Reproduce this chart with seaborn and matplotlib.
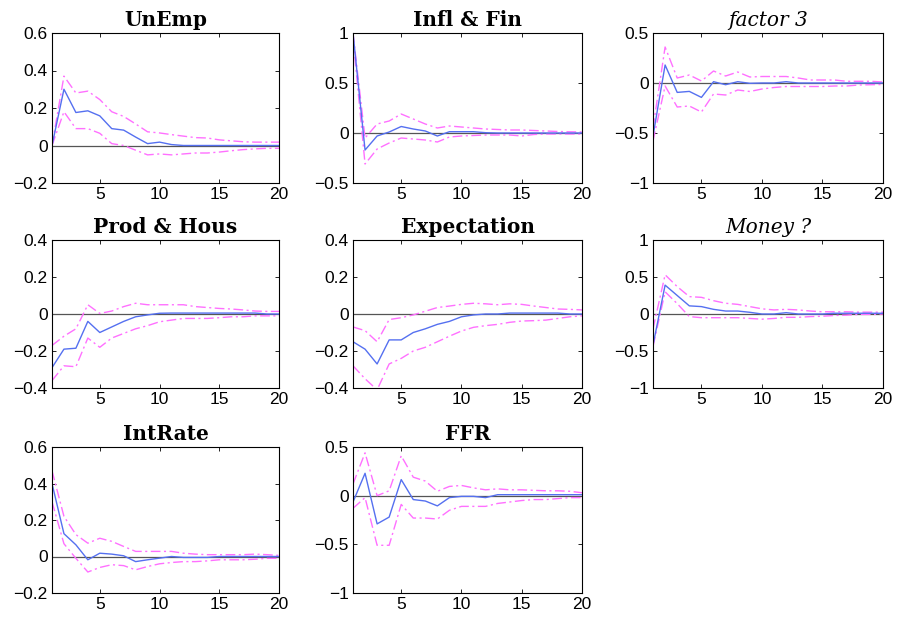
import numpy as np
import pandas as pd
import matplotlib
matplotlib.use("Agg")
import matplotlib.pyplot as plt
import seaborn as sns

horizon = list(range(1, 21))

titles = ["UnEmp", "Infl & Fin", "factor 3", "Prod & Hous", "Expectation", "Money ?", "IntRate", "FFR"]
italic_titles = ["factor 3", "Money ?"]

unemp_mid = [0.0, 0.30, 0.176, 0.185, 0.158, 0.09, 0.082, 0.045, 0.01, 0.018, 0.005, 0, 0, 0, 0, 0, 0, 0, 0, 0]
unemp_up = [0.0, 0.37, 0.28, 0.29, 0.245, 0.18, 0.155, 0.115, 0.073, 0.067, 0.058, 0.05, 0.042, 0.04, 0.03, 0.025, 0.02, 0.018, 0.018, 0.018]
unemp_lo = [0.0, 0.18, 0.09, 0.09, 0.065, 0.01, 0.0, -0.025, -0.05, -0.045, -0.05, -0.045, -0.04, -0.04, -0.035, -0.028, -0.022, -0.018, -0.015, -0.015]

infl_mid = [1.0, -0.17, -0.03, 0.01, 0.065, 0.04, 0.02, -0.03, 0.013, 0.013, 0.013, 0.003, 0, 0, 0, 0, 0, 0, 0, 0]
infl_up = [1.0, -0.05, 0.09, 0.12, 0.19, 0.14, 0.09, 0.05, 0.07, 0.06, 0.05, 0.04, 0.035, 0.03, 0.03, 0.025, 0.02, 0.015, 0.012, 0.01]
infl_lo = [0.95, -0.31, -0.16, -0.10, -0.05, -0.06, -0.07, -0.09, -0.04, -0.03, -0.025, -0.02, -0.02, -0.02, -0.03, -0.015, -0.01, -0.01, -0.01, -0.01]

fac3_mid = [-0.53, 0.18, -0.094, -0.084, -0.144, 0.013, -0.017, 0.013, -0.003, 0, 0, 0.013, 0, 0, 0, 0, 0, 0, 0, 0]
fac3_up = [-0.45, 0.36, 0.05, 0.08, 0.02, 0.12, 0.07, 0.11, 0.06, 0.065, 0.065, 0.065, 0.05, 0.03, 0.03, 0.03, 0.017, 0.017, 0.017, 0.01]
fac3_lo = [-0.58, -0.03, -0.24, -0.23, -0.29, -0.11, -0.12, -0.07, -0.085, -0.06, -0.045, -0.035, -0.035, -0.035, -0.035, -0.03, -0.03, -0.02, -0.017, -0.015]

prod_mid = [-0.29, -0.19, -0.185, -0.04, -0.10, -0.07, -0.04, -0.015, -0.005, 0.004, 0.005, 0.005, 0.005, 0.005, 0.005, 0.005, 0.005, 0.005, 0.0, 0.0]
prod_up = [-0.17, -0.12, -0.08, 0.05, 0.003, 0.016, 0.04, 0.058, 0.05, 0.05, 0.05, 0.05, 0.04, 0.035, 0.03, 0.027, 0.022, 0.016, 0.014, 0.014]
prod_lo = [-0.36, -0.28, -0.285, -0.13, -0.18, -0.13, -0.105, -0.08, -0.063, -0.042, -0.033, -0.024, -0.024, -0.024, -0.02, -0.015, -0.015, -0.01, -0.01, -0.01]

expe_mid = [-0.15, -0.19, -0.27, -0.14, -0.14, -0.10, -0.08, -0.056, -0.04, -0.015, -0.005, 0, 0, 0.005, 0.005, 0.005, 0.005, 0.005, 0.0, 0.0]
expe_up = [-0.07, -0.09, -0.15, -0.03, -0.02, -0.005, 0.015, 0.035, 0.043, 0.052, 0.058, 0.055, 0.05, 0.055, 0.052, 0.043, 0.035, 0.027, 0.025, 0.022]
expe_lo = [-0.28, -0.35, -0.41, -0.27, -0.24, -0.20, -0.18, -0.15, -0.12, -0.092, -0.072, -0.063, -0.056, -0.045, -0.038, -0.036, -0.033, -0.024, -0.015, -0.01]

money_mid = [-0.42, 0.39, 0.25, 0.11, 0.10, 0.063, 0.04, 0.04, 0.023, 0, 0, 0.018, 0, 0, 0, 0.01, 0.01, 0.01, 0.01, 0.01]
money_up = [-0.20, 0.53, 0.37, 0.235, 0.225, 0.18, 0.145, 0.13, 0.10, 0.07, 0.055, 0.063, 0.055, 0.04, 0.03, 0.03, 0.03, 0.025, 0.025, 0.025]
money_lo = [-0.44, 0.30, 0.14, -0.035, -0.05, -0.05, -0.05, -0.05, -0.06, -0.07, -0.06, -0.045, -0.045, -0.035, -0.03, -0.02, -0.015, -0.005, -0.005, 0.0]

intr_mid = [0.40, 0.125, 0.064, -0.018, 0.018, 0.013, 0.004, -0.028, -0.018, -0.009, 0, -0.005, -0.005, -0.005, 0, 0, 0, 0, 0, 0]
intr_up = [0.47, 0.22, 0.12, 0.073, 0.10, 0.083, 0.055, 0.028, 0.028, 0.028, 0.028, 0.018, 0.013, 0.01, 0.01, 0.01, 0.01, 0.013, 0.01, 0.006]
intr_lo = [0.30, 0.07, -0.01, -0.085, -0.06, -0.045, -0.05, -0.073, -0.055, -0.04, -0.033, -0.028, -0.028, -0.024, -0.018, -0.018, -0.018, -0.015, -0.01, -0.01]

ffr_mid = [-0.065, 0.23, -0.29, -0.22, 0.165, -0.04, -0.055, -0.105, -0.02, -0.007, -0.007, -0.02, 0.01, 0.01, 0.01, 0.01, 0.01, 0.01, 0.01, 0.01]
ffr_up = [0.12, 0.44, 0.0, 0.05, 0.41, 0.19, 0.15, 0.045, 0.095, 0.105, 0.08, 0.06, 0.07, 0.06, 0.06, 0.055, 0.05, 0.05, 0.045, 0.03]
ffr_lo = [-0.13, -0.02, -0.51, -0.51, -0.09, -0.23, -0.23, -0.24, -0.15, -0.11, -0.11, -0.11, -0.08, -0.065, -0.05, -0.04, -0.04, -0.03, -0.02, -0.02]

series = {
    "UnEmp": (unemp_mid, unemp_up, unemp_lo),
    "Infl & Fin": (infl_mid, infl_up, infl_lo),
    "factor 3": (fac3_mid, fac3_up, fac3_lo),
    "Prod & Hous": (prod_mid, prod_up, prod_lo),
    "Expectation": (expe_mid, expe_up, expe_lo),
    "Money ?": (money_mid, money_up, money_lo),
    "IntRate": (intr_mid, intr_up, intr_lo),
    "FFR": (ffr_mid, ffr_up, ffr_lo),
}

ylims = {
    "UnEmp": (-0.2, 0.6, [-0.2, 0, 0.2, 0.4, 0.6]),
    "Infl & Fin": (-0.5, 1.0, [-0.5, 0, 0.5, 1]),
    "factor 3": (-1.0, 0.5, [-1, -0.5, 0, 0.5]),
    "Prod & Hous": (-0.4, 0.4, [-0.4, -0.2, 0, 0.2, 0.4]),
    "Expectation": (-0.4, 0.4, [-0.4, -0.2, 0, 0.2, 0.4]),
    "Money ?": (-1.0, 1.0, [-1, -0.5, 0, 0.5, 1]),
    "IntRate": (-0.2, 0.6, [-0.2, 0, 0.2, 0.4, 0.6]),
    "FFR": (-1.0, 0.5, [-1, -0.5, 0, 0.5]),
}

rows = []
for name, (mid, up, lo) in series.items():
    for band, vals in (("upper", up), ("lower", lo), ("center", mid)):
        for h, v in zip(horizon, vals):
            rows.append({"panel": name, "h": h, "value": v, "band": band})
df = pd.DataFrame(rows)

sns.set_theme(style="ticks")
plt.rcParams["font.family"] = ["Liberation Sans", "DejaVu Sans"]
plt.rcParams["text.color"] = "black"
plt.rcParams["axes.titlecolor"] = "black"
plt.rcParams["xtick.direction"] = "in"
plt.rcParams["ytick.direction"] = "in"

W, H = 898, 619
fig = plt.figure(figsize=(W / 100, H / 100), dpi=100)

col_left = [52, 353, 653]
col_w = [227, 229, 230]
row_top = [33, 240, 447]
row_h = [150, 148, 146]

palette = {"center": "#5570f0", "upper": "#ff70ff", "lower": "#ff70ff"}
dashes = {"center": "", "upper": (7, 2.5, 1.5, 2.5), "lower": (7, 2.5, 1.5, 2.5)}

for i, name in enumerate(titles):
    r, c = divmod(i, 3)
    l = col_left[c] / W
    b = 1 - (row_top[r] + row_h[r]) / H
    ax = fig.add_axes([l, b, col_w[c] / W, row_h[r] / H])
    ax.axhline(0, color="#555555", lw=0.9, zorder=1)
    sub = df[df["panel"] == name]
    sns.lineplot(data=sub, x="h", y="value", hue="band", style="band",
                 palette=palette, dashes=dashes, legend=False, ax=ax,
                 linewidth=1.0, zorder=2)
    lo_, hi_, ticks = ylims[name]
    ax.set_ylim(lo_, hi_)
    ax.set_yticks(ticks)
    ax.set_yticklabels(["0" if t == 0 else f"{t:g}".replace("-", "\u2212") for t in ticks])
    ax.set_xlim(1, 20)
    ax.set_xticks([5, 10, 15, 20])
    ax.set_xlabel("")
    ax.set_ylabel("")
    ax.tick_params(axis="both", which="both", direction="in", top=True, right=True,
                   length=3, width=0.6, labelsize=12.5, pad=3, colors="black")
    for sp in ax.spines.values():
        sp.set_visible(True)
        sp.set_linewidth(0.8)
        sp.set_color("black")
    if name in italic_titles:
        ax.set_title(name, fontsize=14.5, family=["DejaVu Serif"], style="italic",
                     pad=5, color="black")
    else:
        ax.set_title(name, fontsize=14.5, family=["DejaVu Serif"], fontweight="bold",
                     pad=5, color="black")

fig.savefig("out.png", dpi=100)
